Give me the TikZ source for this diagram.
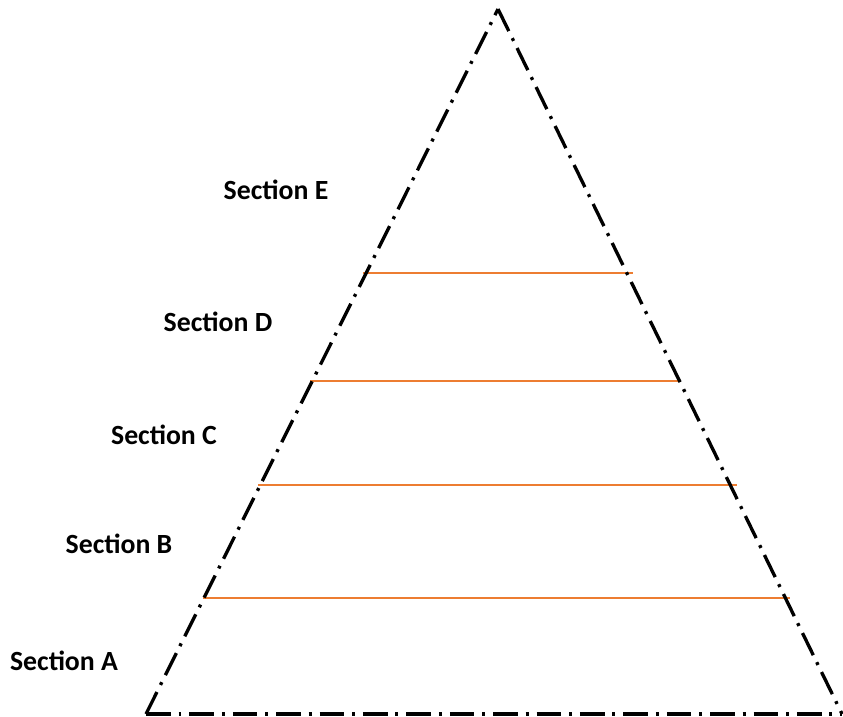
\documentclass[tikz,border=0pt]{standalone}
\usepackage{fontspec}
\setmainfont{Carlito}
\usetikzlibrary{calc}
\definecolor{lineorange}{RGB}{237,125,49}
\tikzset{
  sectlabel/.style={font=\bfseries\fontsize{15.8}{18}\selectfont},
  outline/.style={line width=1.9pt,dash pattern=on 14pt off 4.5pt on 1.7pt off 4.5pt},
  divider/.style={draw=lineorange,line width=0.75pt}
}
\begin{document}
\begin{tikzpicture}[x=0.02cm,y=-0.02cm]
\useasboundingbox (0,0) rectangle (843,717);
\coordinate (top) at (498,9);
\coordinate (bl) at (146,714);
\coordinate (br) at (842,714);

\node[sectlabel] (secE) at (276,190) {Section E};
\node[sectlabel] (secD) at (218,322) {Section D};
\node[sectlabel] (secC) at (164,435) {Section C};
\node[sectlabel] (secB) at (119,544) {Section B};
\node[sectlabel] (secA) at (64,661) {Section A};

\coordinate (d1l) at (363,273); \coordinate (d1r) at (633,273);
\coordinate (d2l) at (310,381); \coordinate (d2r) at (680,381);
\coordinate (d3l) at (258,485); \coordinate (d3r) at (737,485);
\coordinate (d4l) at (203,598); \coordinate (d4r) at (790,598);

\draw[divider] (d1l) -- (d1r); \draw[divider] (d2l) -- (d2r); \draw[divider] (d3l) -- (d3r); \draw[divider] (d4l) -- (d4r);
\draw[outline] (bl) -- (top); \draw[outline] (top) -- (br); \draw[outline] (bl) -- (br);
\end{tikzpicture}
\end{document}
